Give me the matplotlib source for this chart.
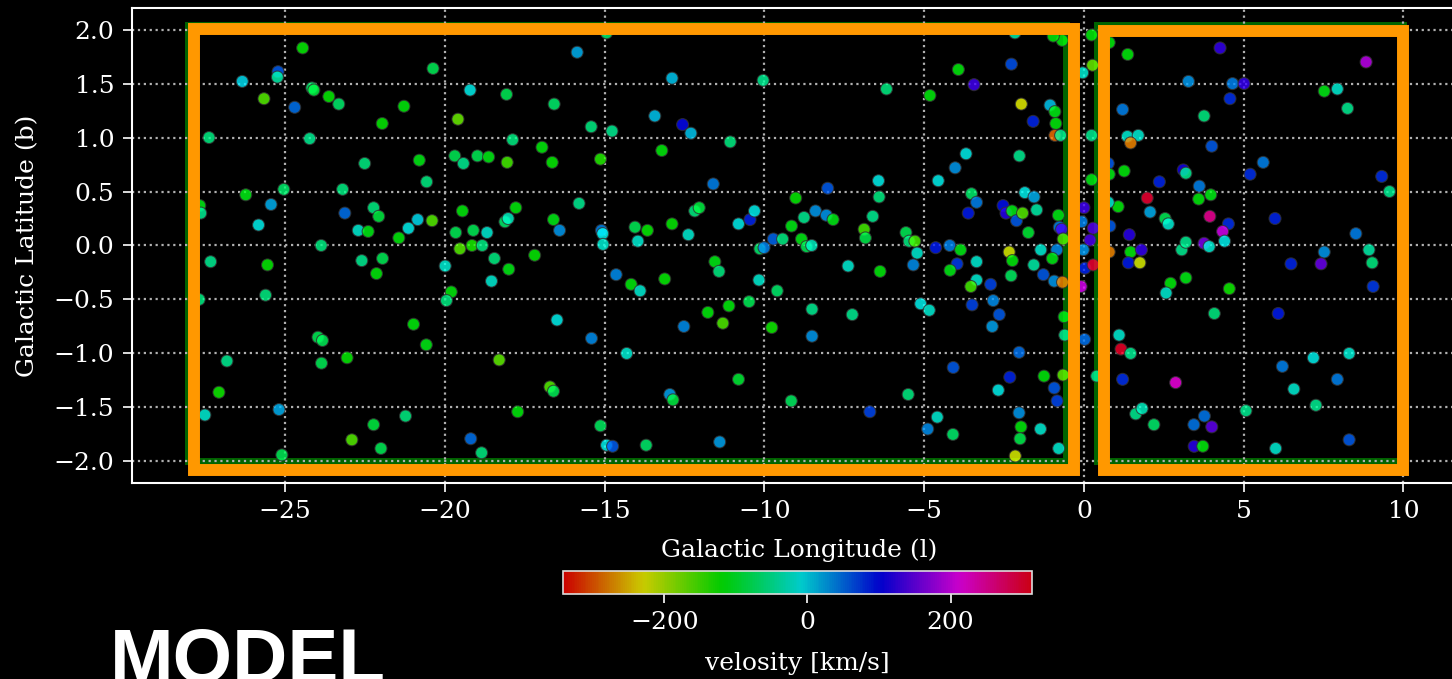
import matplotlib
matplotlib.use("Agg")
import matplotlib.pyplot as plt
from matplotlib.patches import Rectangle
from matplotlib.colors import Normalize

# galactic longitude (deg), latitude (deg), line-of-sight velocity (km/s)
lon = [
    -24.45, -25.22, -25.24, -26.34, -24.16, -24.10, -23.63, -23.32, -25.66, -24.70,
    -21.28, -20.37, -21.96, -19.59, -19.21, -18.07, -27.38, -24.23, -22.51, -20.80,
    -20.57, -19.69, -19.42, -18.98, -18.63, -18.05, -26.23, -25.04, -23.20, -25.44,
    -25.83, -27.67, -27.64, -23.13, -22.23, -22.07, -22.71, -22.40, -21.44, -21.14,
    -20.85, -20.40, -19.45, -19.66, -19.11, -18.68, -18.12, -18.02, -19.53, -19.15,
    -18.83, -18.45, -18.00, -23.87, -27.33, -25.55, -22.60, -21.95, -22.14, -19.99,
    -18.54, -25.61, -19.80, -19.95, -27.69, -23.97, -23.83, -20.98, -20.58, -26.82,
    -23.86, -23.06, -18.30, -27.07, -27.51, -25.19, -21.23, -22.23, -22.91, -22.00,
    -25.10, -19.19, -18.85,
    -14.94, -15.86, -12.89, -10.04, -16.58, -13.43, -12.56, -12.30, -15.42, -14.77,
    -17.88, -16.96, -16.64, -15.13, -13.21, -11.07, -11.60, -15.80, -17.78, -16.60,
    -16.41, -15.10, -15.06, -15.05, -14.05, -13.66, -13.96, -12.89, -12.38, -12.18,
    -12.04, -10.81, -10.45, -10.31, -9.02, -8.76, -8.40, -9.15, -8.02, -8.06,
    -9.72, -9.43, -10.14, -10.01, -8.84, -8.68, -8.52, -17.19, -14.64, -14.17,
    -13.89, -13.12, -11.55, -11.42, -10.17, -9.60, -11.77, -11.11, -10.48, -11.30,
    -9.77, -8.51, -8.51, -12.52, -16.49, -15.41, -14.31, -16.71, -16.60, -17.72,
    -12.96, -12.86, -10.81, -9.16, -15.13, -14.94, -14.75, -13.70, -11.40,
    -3.93, -3.44, -2.27, -4.82, -6.18, -1.96, -1.06, -0.91, -1.59, -0.88,
    -0.91, -0.73, -0.68, -0.96, -2.16, -3.69, -4.03, -2.02, -4.56, -6.43,
    -6.41, -6.61, -7.85, -6.88, -6.84, -5.57, -5.47, -5.29, -5.22, -5.34,
    -4.64, -4.20, -3.86, -3.97, -4.19, -3.36, -3.52, -3.36, -3.62, -2.53,
    -2.44, -2.25, -2.11, -1.92, -1.85, -1.56, -1.48, -0.80, -1.74, -0.77,
    -0.70, -0.65, -2.34, -2.24, -2.28, -1.35, -0.85, -0.99, -1.57, -1.27,
    -0.93, -0.67, -2.92, -3.36, -3.54, -3.50, -2.84, -2.65, -2.87, -5.11,
    -4.84, -7.25, -7.38, -6.38, -2.03, -4.09, -2.32, -1.25, -0.65, -0.93,
    -0.84, -2.68, -5.50, -6.70, -2.03, -1.97, -2.00, -1.36, -0.79, -4.59,
    -4.89, -4.10, -2.15, -0.62, -0.60,
    0.24, 0.27, -0.04, 0.24, 0.24, 0.00, -0.07, 0.29, 0.19, -0.02,
    0.03, 0.29, -0.09, 0.02, 0.40,
    4.26, 8.83, 1.37, 0.79, 3.27, 4.65, 5.01, 4.57, 1.21, 3.76,
    7.52, 7.93, 8.25, 1.36, 1.70, 1.46, 4.00, 5.61, 5.20, 9.32,
    1.26, 0.76, 0.79, 2.36, 3.11, 3.19, 3.61, 3.97, 3.59, 1.98,
    1.07, 0.76, 2.07, 2.54, 2.64, 3.94, 4.52, 4.34, 4.40, 5.98,
    9.56, 8.51, 0.81, 1.42, 1.46, 1.80, 1.39, 1.75, 0.79, 3.06,
    3.19, 3.76, 3.92, 7.52, 6.48, 7.42, 8.92, 9.02, 9.05, 3.19,
    2.71, 2.57, 4.55, 4.08, 6.08, 1.10, 1.16, 1.46, 1.21, 2.87,
    6.21, 7.18, 8.30, 6.57, 7.93, 7.26, 5.07, 1.62, 1.82, 2.19,
    3.77, 3.44, 4.00, 3.45, 3.72, 6.00, 8.30,
]
lat = [
    1.83, 1.61, 1.56, 1.52, 1.46, 1.44, 1.38, 1.31, 1.36, 1.28,
    1.29, 1.64, 1.13, 1.17, 1.44, 1.40, 1.00, 0.99, 0.76, 0.79,
    0.59, 0.83, 0.76, 0.83, 0.82, 0.77, 0.47, 0.52, 0.52, 0.38,
    0.19, 0.37, 0.30, 0.30, 0.35, 0.27, 0.14, 0.13, 0.07, 0.16,
    0.24, 0.23, 0.32, 0.12, 0.14, 0.12, 0.22, 0.25, -0.03, 0.00,
    0.00, -0.12, -0.22, 0.00, -0.15, -0.18, -0.14, -0.12, -0.26, -0.19,
    -0.33, -0.46, -0.43, -0.51, -0.50, -0.85, -0.88, -0.73, -0.92, -1.07,
    -1.09, -1.04, -1.06, -1.36, -1.57, -1.52, -1.58, -1.66, -1.80, -1.88,
    -1.94, -1.79, -1.92,
    1.97, 1.79, 1.55, 1.53, 1.31, 1.20, 1.12, 1.04, 1.10, 1.06,
    0.98, 0.91, 0.77, 0.80, 0.88, 0.96, 0.57, 0.39, 0.35, 0.24,
    0.14, 0.14, 0.11, 0.01, 0.17, 0.14, 0.04, 0.20, 0.10, 0.32,
    0.35, 0.20, 0.24, 0.32, 0.44, 0.26, 0.32, 0.18, 0.53, 0.28,
    0.06, 0.06, -0.03, -0.02, 0.06, -0.01, 0.00, -0.09, -0.27, -0.36,
    -0.42, -0.31, -0.15, -0.24, -0.32, -0.42, -0.62, -0.56, -0.52, -0.72,
    -0.76, -0.59, -0.84, -0.75, -0.69, -0.86, -1.00, -1.31, -1.35, -1.54,
    -1.38, -1.43, -1.24, -1.44, -1.67, -1.85, -1.86, -1.85, -1.82,
    1.63, 1.49, 1.68, 1.39, 1.45, 1.31, 1.30, 1.24, 1.15, 1.13,
    1.02, 1.02, 1.90, 1.94, 1.97, 0.85, 0.72, 0.83, 0.60, 0.60,
    0.45, 0.27, 0.24, 0.15, 0.07, 0.12, 0.04, 0.04, -0.07, -0.18,
    -0.02, 0.00, -0.04, -0.17, -0.23, -0.15, 0.48, 0.40, 0.30, 0.37,
    0.30, 0.32, 0.23, 0.30, 0.49, 0.45, 0.33, 0.28, 0.12, 0.17,
    0.15, 0.06, -0.06, -0.14, -0.28, -0.04, -0.04, -0.12, -0.18, -0.27,
    -0.33, -0.34, -0.36, -0.32, -0.38, -0.55, -0.51, -0.64, -0.75, -0.54,
    -0.60, -0.64, -0.19, -0.24, -0.99, -1.13, -1.22, -1.21, -1.20, -1.32,
    -1.44, -1.34, -1.38, -1.54, -1.55, -1.68, -1.79, -1.70, -1.88, -1.59,
    -1.70, -1.75, -1.95, -0.66, -0.83,
    1.95, 1.67, 1.60, 1.02, 0.61, 0.35, 0.22, 0.16, 0.05, -0.04,
    -0.21, -0.18, -0.38, -0.87, -1.21,
    1.83, 1.70, 1.77, 1.88, 1.52, 1.50, 1.50, 1.36, 1.26, 1.20,
    1.43, 1.45, 1.27, 1.01, 1.02, 0.95, 0.92, 0.77, 0.66, 0.64,
    0.69, 0.76, 0.66, 0.59, 0.70, 0.67, 0.55, 0.47, 0.43, 0.44,
    0.36, 0.40, 0.31, 0.25, 0.20, 0.27, 0.20, 0.13, 0.04, 0.25,
    0.50, 0.11, 0.18, 0.10, -0.06, -0.04, -0.16, -0.16, -0.06, -0.04,
    0.03, 0.02, -0.01, -0.06, -0.17, -0.17, -0.04, -0.16, -0.38, -0.30,
    -0.35, -0.44, -0.40, -0.63, -0.63, -0.83, -0.96, -1.00, -1.24, -1.27,
    -1.12, -1.04, -1.00, -1.33, -1.24, -1.48, -1.53, -1.56, -1.51, -1.66,
    -1.58, -1.66, -1.68, -1.86, -1.86, -1.88, -1.80,
]
vel = [
    -120, 60, -40, 0, -70, -90, -120, -70, -160, 50,
    -115, -80, -120, -170, -10, -80, -60, -50, -60, -110,
    -60, -80, -50, -80, -110, -150, -110, -70, -60, 20,
    -10, -110, -50, 50, -60, -90, -20, -110, -115, -10,
    0, -160, -115, -80, -80, -20, -70, -30, -160, -130,
    -60, -60, -110, -60, -50, -120, -50, -80, -115, -20,
    -20, -60, -115, -60, -60, -80, -80, -115, -110, -50,
    -80, -120, -165, -125, -20, 20, -60, -90, -160, -80,
    -80, 50, -60,
    -70, 20, 10, -50, -70, 10, 100, 10, -60, -50,
    -60, -115, -120, -135, -115, -60, 40, -50, -115, -110,
    30, 40, -10, -20, -80, -120, -20, -120, -20, -60,
    -90, -10, 85, -10, -120, -50, 30, -110, 60, 30,
    55, -60, -70, 40, -110, -80, -30, -120, 35, -115,
    -20, -120, -110, -60, -20, -70, -115, -115, -80, -155,
    -125, -50, 30, 35, -10, 35, -20, -160, -80, -115,
    25, -90, -95, -75, -75, -10, 60, -70, 25,
    -115, 130, 65, -115, -60, -225, 10, -110, 85, -115,
    -290, -50, -115, -115, -40, -10, 30, -50, -10, -10,
    -60, -50, -110, -150, -85, -80, -60, -150, -20, 35,
    90, 40, -110, 75, -110, -20, -70, 40, 90, 95,
    120, -110, 60, -160, -10, 20, -40, -110, -95, 40,
    130, -155, -220, -115, -75, -20, 35, -110, -40, 60,
    30, -280, 70, -20, -150, 70, 35, 60, 25, -10,
    -20, -50, -20, -115, 50, 60, 85, -115, -165, 60,
    70, -10, -60, 70, 30, -115, -85, -20, -20, -20,
    35, -70, -220, -110, -50,
    -115, -170, -20, -50, -110, 130, 40, 140, 135, 30,
    85, 300, 200, 50, -50,
    125, 190, -115, -115, 30, 40, 125, 80, 40, -60,
    -110, -20, -50, -20, -20, -280, 60, 40, 80, 80,
    -115, 60, -110, 85, 110, -50, 40, -110, -115, 300,
    -115, -20, 20, -80, -20, 255, 80, 200, -10, 85,
    -50, 40, 60, 120, -115, 125, 90, -220, -280, -50,
    -50, 160, -20, 30, 85, 150, -40, -60, 75, -110,
    -115, -20, -125, -60, 90, -20, 305, -50, 80, 220,
    40, -10, -20, -20, 40, -50, -50, -50, -30, -70,
    45, 45, 145, 120, -115, -20, 60,
]

# velocity range shown on the colour bar
vel_min, vel_max = -342, 314

# selection boxes: (l0, l1, b0, b1)
survey_boxes = [(-28.05, -0.56, -2.0, 2.04), (0.4, 10.0, -2.0, 2.04)]
model_boxes = [(-27.85, -0.32, -2.08, 2.01), (0.62, 9.98, -2.08, 1.99)]

fs = 18
plt.rcParams['font.family'] = 'DejaVu Serif'
fig = plt.figure(figsize=(14.52, 6.79), dpi=100, facecolor='black')
ax = fig.add_axes([0.0907, 0.2887, 0.9199, 0.6995], facecolor='black')

for l0, l1, b0, b1 in survey_boxes:
    ax.add_patch(Rectangle((l0, b0), l1 - l0, b1 - b0, fill=False,
                           edgecolor='#006400', linewidth=5, zorder=1))

norm = Normalize(vmin=vel_min, vmax=vel_max)
sc = ax.scatter(lon, lat, c=vel, cmap='hsv', norm=norm, s=75, alpha=0.8,
                edgecolors='#303030', linewidths=0.8, zorder=2)

for l0, l1, b0, b1 in model_boxes:
    ax.add_patch(Rectangle((l0, b0), l1 - l0, b1 - b0, fill=False,
                           edgecolor='#ff9800', linewidth=8.6, zorder=3))

ax.set_xlim(-29.8, 12.0)
ax.set_ylim(-2.2, 2.2)
ax.set_xticks([-25, -20, -15, -10, -5, 0, 5, 10])
ax.set_yticks([-2.0, -1.5, -1.0, -0.5, 0.0, 0.5, 1.0, 1.5, 2.0])
ax.grid(True, color='#b0b0b0', linestyle=':', linewidth=1.6)
ax.tick_params(colors='white', labelsize=fs, length=6.5, width=1.2, pad=6)
for sp in ax.spines.values():
    sp.set_color('white')
    sp.set_linewidth(1.5)
ax.set_xlabel('Galactic Longitude (l)', color='white', fontsize=fs, labelpad=11)
ax.set_ylabel('Galactic Latitude (b)', color='white', fontsize=fs, labelpad=10)

cax = fig.add_axes([0.3875, 0.1252, 0.3234, 0.0343], facecolor='black')
cb = fig.colorbar(sc, cax=cax, orientation='horizontal')
cb.set_ticks([-200, 0, 200])
cb.ax.tick_params(colors='white', labelsize=fs, length=6.5, width=1.2, pad=6)
cb.outline.set_edgecolor('#dddddd')
cb.outline.set_linewidth(1.2)
cb.set_label('velosity [km/s]', color='white', fontsize=fs, labelpad=13)

fig.text(0.0758, -0.0044, 'MODEL', color='white', fontsize=55,
         fontweight='bold', family='Liberation Sans', va='baseline', ha='left')

fig.savefig('out.png', dpi=100, facecolor='black')
